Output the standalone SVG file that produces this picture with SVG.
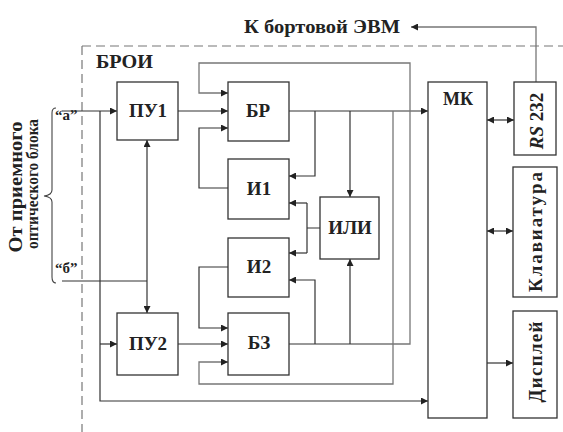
<svg xmlns="http://www.w3.org/2000/svg" width="563" height="432" viewBox="0 0 563 432">
<style>
.box{fill:#fff;stroke:#333;stroke-width:1.3}
.ln{fill:none;stroke:#333;stroke-width:1.2}
.lg{fill:none;stroke:#777;stroke-width:1.3}
.t{font-family:"Liberation Serif","Times New Roman",serif;font-weight:bold;fill:#222}
.dash{fill:none;stroke:#777;stroke-width:1.2;stroke-dasharray:9,5}
</style>
<defs>
<marker id="a" viewBox="0 0 10 10" refX="10" refY="5" markerWidth="8" markerHeight="7" markerUnits="userSpaceOnUse" orient="auto-start-reverse">
<path d="M0,0 L10,5 L0,10 z" fill="#222"/>
</marker>
</defs>
<rect width="563" height="432" fill="#fff"/>

<path class="dash" d="M82,46 H563 M82,46 V432"/>
<text class="t" x="96" y="68" font-size="19" textLength="57" lengthAdjust="spacingAndGlyphs">БРОИ</text>
<text class="t" x="244" y="33" font-size="19" textLength="156" lengthAdjust="spacingAndGlyphs">К бортовой ЭВМ</text>

<g id="input-label">
<path d="M56,108 Q52,108 52,113 V190 Q52,195 44,196 Q52,197 52,202 V277 Q52,283 56,283" fill="none" stroke="#444" stroke-width="1.1"/>
<text class="t" transform="translate(22,187) rotate(-90)" text-anchor="middle" font-size="18" textLength="131" lengthAdjust="spacingAndGlyphs">От приемного</text>
<text class="t" transform="translate(38,184) rotate(-90)" text-anchor="middle" font-size="16" textLength="130" lengthAdjust="spacingAndGlyphs">оптического блока</text>
<text class="t" x="55" y="120" font-size="15">“а”</text>
<text class="t" x="55" y="273" font-size="15">“б”</text>
</g>

<g id="connectors">
<path class="ln" d="M62,111 H117" marker-end="url(#a)"/>
<path class="ln" d="M100,111 V401 H428" marker-end="url(#a)"/>
<path class="ln" d="M100,344 H117" marker-end="url(#a)"/>
<path class="ln" d="M62,281 H147"/>
<path class="ln" d="M147,140 V313" marker-start="url(#a)" marker-end="url(#a)"/>
<path class="ln" d="M178,111 H228" marker-end="url(#a)"/>
<path class="ln" d="M178,344 H228" marker-end="url(#a)"/>
<path class="ln" d="M289,111 H428" marker-end="url(#a)"/>
<path class="ln" d="M315,111 V176 H289" marker-end="url(#a)"/>
<path class="ln" d="M350,111 V197" marker-end="url(#a)"/>
<path class="lg" d="M393,111 V384 H199 V362 H228" marker-end="url(#a)"/>
<path class="lg" d="M289,344 H410 V63 H199 V93 H228" marker-end="url(#a)"/>
<path class="ln" d="M315,344 V280 H289" marker-end="url(#a)"/>
<path class="ln" d="M350,344 V259" marker-end="url(#a)"/>
<path class="ln" d="M320,228 H307 M307,203 V253"/>
<path class="ln" d="M307,203 H289" marker-end="url(#a)"/>
<path class="ln" d="M307,253 H289" marker-end="url(#a)"/>
<path class="ln" d="M228,188 H199 V128 H228" marker-end="url(#a)"/>
<path class="ln" d="M228,267 H199 V328 H228" marker-end="url(#a)"/>
<path class="ln" d="M487,120 H514" marker-start="url(#a)" marker-end="url(#a)"/>
<path class="ln" d="M487,231 H513" marker-start="url(#a)" marker-end="url(#a)"/>
<path class="ln" d="M487,363 H513" marker-end="url(#a)"/>
<path class="lg" d="M536,82 V27 H411" marker-end="url(#a)"/>
</g>

<g id="PU1"><rect class="box" x="117" y="82" width="61" height="58"/><text class="t" x="148" y="117" text-anchor="middle" font-size="19">ПУ1</text></g>
<g id="PU2"><rect class="box" x="117" y="313" width="61" height="62"/><text class="t" x="148" y="350" text-anchor="middle" font-size="19">ПУ2</text></g>
<g id="BR"><rect class="box" x="228" y="82" width="61" height="59"/><text class="t" x="258" y="117" text-anchor="middle" font-size="19">БР</text></g>
<g id="I1"><rect class="box" x="228" y="159" width="61" height="60"/><text class="t" x="259" y="195" text-anchor="middle" font-size="19">И1</text></g>
<g id="I2"><rect class="box" x="228" y="238" width="61" height="59"/><text class="t" x="259" y="273" text-anchor="middle" font-size="19">И2</text></g>
<g id="BZ"><rect class="box" x="228" y="313" width="61" height="62"/><text class="t" x="259" y="349" text-anchor="middle" font-size="19">БЗ</text></g>
<g id="ILI"><rect class="box" x="320" y="197" width="59" height="62"/><text class="t" x="350" y="234" text-anchor="middle" font-size="19">ИЛИ</text></g>
<g id="MK"><rect class="box" x="428" y="82" width="59" height="336"/><text class="t" x="458" y="105" text-anchor="middle" font-size="18">МК</text></g>
<g id="RS232"><rect class="box" x="514" y="82" width="42" height="73"/><text class="t" transform="translate(543,121) rotate(-90)" text-anchor="middle" font-size="19"><tspan font-style="italic">RS</tspan> 232</text></g>
<g id="Klav"><rect class="box" x="513" y="167" width="44" height="130"/><text class="t" transform="translate(542,232) rotate(-90)" text-anchor="middle" font-size="19" textLength="120">Клавиатура</text></g>
<g id="Disp"><rect class="box" x="513" y="311" width="44" height="107"/><text class="t" transform="translate(542,362) rotate(-90)" text-anchor="middle" font-size="19" textLength="81">Дисплей</text></g>
</svg>
